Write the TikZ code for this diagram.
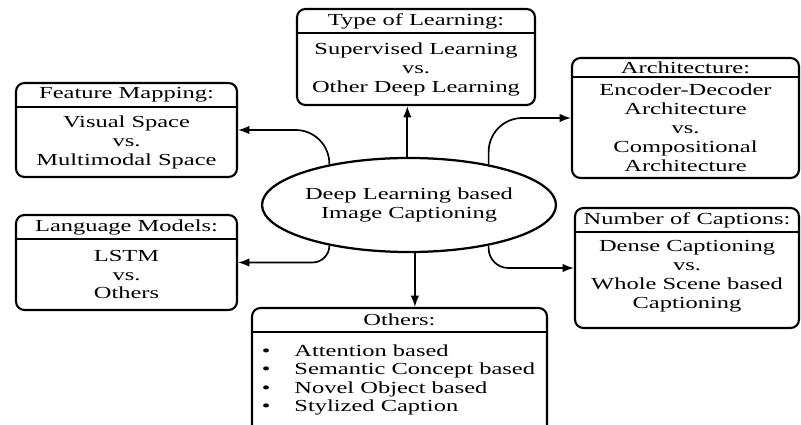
\documentclass[tikz,border=0pt]{standalone}
\usepackage{fontspec}
\setmainfont{Liberation Serif}[FakeStretch=1.45]
\usetikzlibrary{fit,shapes.geometric,arrows.meta}

\tikzset{
  box/.style={draw, line width=1.5pt, rounded corners=6pt, inner sep=0pt},
  sep/.style={line width=1.5pt},
  head/.style={font=\fontsize{12}{13.5}\selectfont},
  body/.style={align=center, font=\fontsize{12}{13.5}\selectfont},
  link/.style={->, >={Latex[length=8pt,width=6pt]}, line width=1.2pt},
}
\newcommand{\bulletitem}{\textbullet\hspace{17pt}}

\begin{document}
\begin{tikzpicture}[x=0.025cm, y=-0.025cm]
\clip (0,0) rectangle (801,425);

\node (core) at (409,205) [draw, ellipse, line width=1.6pt, minimum width=6.35cm, minimum height=2.35cm, inner sep=0pt, body] {Deep Learning based\\Image Captioning};

% Type of Learning
\node (tol) [box, fit={(297,9) (535,105)}] {};
\draw [sep] (297,33) -- (535,33);
\node (tol-h) at (416,21) [head] {Type of Learning:};
\node (tol-b) at (416,69) [body] {Supervised Learning\\vs.\\Other Deep Learning};

% Feature Mapping
\node (fm) [box, fit={(16,83) (237,177)}] {};
\draw [sep] (16,107) -- (237,107);
\node (fm-h) at (126.5,95) [head] {Feature Mapping:};
\node (fm-b) at (126.5,142) [body] {Visual Space\\vs.\\Multimodal Space};

% Architecture
\node (arch) [box, fit={(572,58) (799,178)}] {};
\draw [sep] (572,77) -- (799,77);
\node (arch-h) at (685.5,67.5) [head] {Architecture:};
\node (arch-b) at (685.5,128) [body] {Encoder-Decoder\\Architecture\\vs.\\Compositional\\Architecture};

% Language Models
\node (lm) [box, fit={(16,215) (237,310)}] {};
\draw [sep] (16,239) -- (237,239);
\node (lm-h) at (126.5,227) [head] {Language Models:};
\node (lm-b) at (126.5,274.5) [body] {LSTM\\vs.\\Others};

% Number of Captions
\node (noc) [box, fit={(575,208) (799,328)}] {};
\draw [sep] (575,232) -- (799,232);
\node (noc-h) at (687,220) [head] {Number of Captions:};
\node (noc-b) at (687,276) [body] {Dense Captioning\\vs.\\Whole Scene based\\Captioning};

% Others
\node (oth) [box, fit={(252,308) (547,440)}] {};
\draw [sep] (252,332) -- (547,332);
\node (oth-h) at (399.5,320) [head] {Others:};
\node (oth-b) at (257,380) [anchor=west, align=left, font=\fontsize{12}{13}\selectfont]
  {\bulletitem Attention based\\
   \bulletitem Semantic Concept based\\
   \bulletitem Novel Object based\\
   \bulletitem Stylized Caption};

\draw [link] (core.92) -- (core.92 |- tol.south);
\draw [link] (core.277) -- (core.277 |- oth.north);
\draw [link, rounded corners=24pt] (core.153) |- (fm.east);
\draw [link, rounded corners=24pt] (core.27) |- (arch.west);
\draw [link, rounded corners=12pt] (core.207) |- (lm.east);
\draw [link, rounded corners=14pt] (core.333) |- (noc.west);

\end{tikzpicture}
\end{document}
